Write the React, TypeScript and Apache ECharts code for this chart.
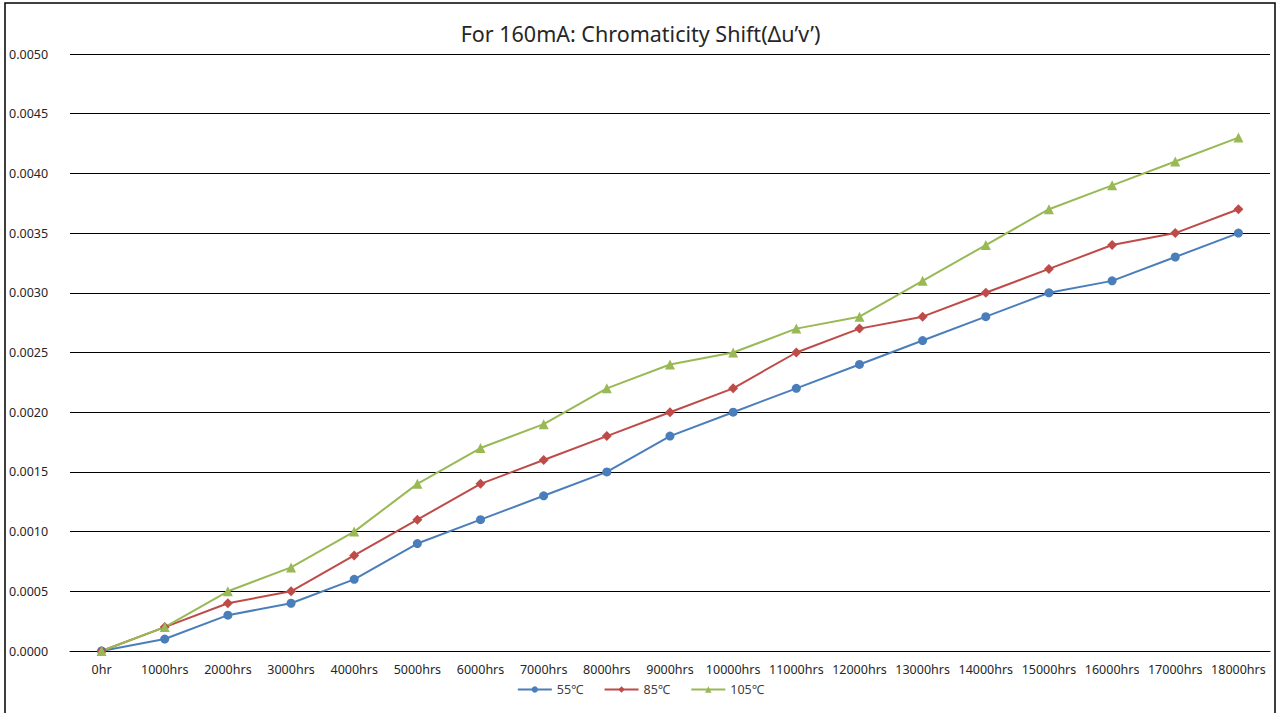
import React, { useEffect, useRef } from "react";
import * as echarts from "echarts";

const categories = [
  "0hr", "1000hrs", "2000hrs", "3000hrs", "4000hrs", "5000hrs", "6000hrs", "7000hrs", "8000hrs", "9000hrs",
  "10000hrs", "11000hrs", "12000hrs", "13000hrs", "14000hrs", "15000hrs", "16000hrs", "17000hrs", "18000hrs",
];
const s55 = [0, 0.0001, 0.0003, 0.0004, 0.0006, 0.0009, 0.0011, 0.0013, 0.0015, 0.0018, 0.002, 0.0022, 0.0024, 0.0026, 0.0028, 0.003, 0.0031, 0.0033, 0.0035];
const s85 = [0, 0.0002, 0.0004, 0.0005, 0.0008, 0.0011, 0.0014, 0.0016, 0.0018, 0.002, 0.0022, 0.0025, 0.0027, 0.0028, 0.003, 0.0032, 0.0034, 0.0035, 0.0037];
const s105 = [0, 0.0002, 0.0005, 0.0007, 0.001, 0.0014, 0.0017, 0.0019, 0.0022, 0.0024, 0.0025, 0.0027, 0.0028, 0.0031, 0.0034, 0.0037, 0.0039, 0.0041, 0.0043];
const seriesNames = ["55℃", "85℃", "105℃"];
const title = "For 160mA: Chromaticity Shift(Δu’v’)";

const FONT = "'Noto Sans', 'Open Sans', sans-serif";

export default function App() {
  const ref = useRef<HTMLDivElement>(null);
  useEffect(() => {
    if (!ref.current) return;
    const chart = echarts.init(ref.current, null, { renderer: "svg" });
    const colors = ["#4a7ebb", "#be4b48", "#98b954"];
    const symbols = ["circle", "diamond", "triangle"];
    const data = [s55, s85, s105];
    chart.setOption({
      animation: false,
      backgroundColor: "#ffffff",
      textStyle: { fontFamily: FONT },
      title: {
        text: title,
        left: "center",
        top: 17,
        textStyle: { fontFamily: FONT, fontSize: 21.5, fontWeight: "normal", color: "#262626" },
      },
      legend: {
        bottom: 12,
        left: "center",
        itemWidth: 34,
        itemHeight: 8,
        itemGap: 20,
        textStyle: { fontFamily: FONT, fontSize: 12.5, color: "#404040" },
        data: seriesNames,
      },
      grid: { left: 70, right: 11, top: 54, bottom: 62, containLabel: false },
      xAxis: {
        type: "category",
        data: categories,
        boundaryGap: true,
        axisLine: { lineStyle: { color: "#000", width: 1 } },
        axisTick: { show: false },
        axisLabel: { fontFamily: FONT, fontSize: 12.5, color: "#262626", margin: 12, interval: 0 },
      },
      yAxis: {
        type: "value",
        min: 0,
        max: 0.005,
        interval: 0.0005,
        axisLine: { show: false },
        axisTick: { show: false },
        splitLine: { lineStyle: { color: "#000", width: 1 } },
        axisLabel: {
          fontFamily: FONT,
          fontSize: 12.5,
          color: "#262626",
          align: "left",
          margin: 61,
          formatter: (v: number) => v.toFixed(4),
        },
      },
      graphic: [
        {
          type: "rect",
          shape: { x: 5, y: 3, width: 1270, height: 730 },
          style: { fill: "none", stroke: "#000", lineWidth: 1.5 },
          silent: true,
          z: 100,
        },
      ],
      series: data.map((d, i) => ({
        name: seriesNames[i],
        type: "line",
        data: d,
        symbol: symbols[i],
        symbolSize: i === 0 ? 9 : 10,
        showAllSymbol: true,
        lineStyle: { color: colors[i], width: 2 },
        itemStyle: { color: colors[i] },
      })),
    });
    return () => chart.dispose();
  }, []);
  return (
    <div
      ref={ref}
      style={{ position: "absolute", left: 0, top: 0, width: 1281, height: 713 }}
    />
  );
}
